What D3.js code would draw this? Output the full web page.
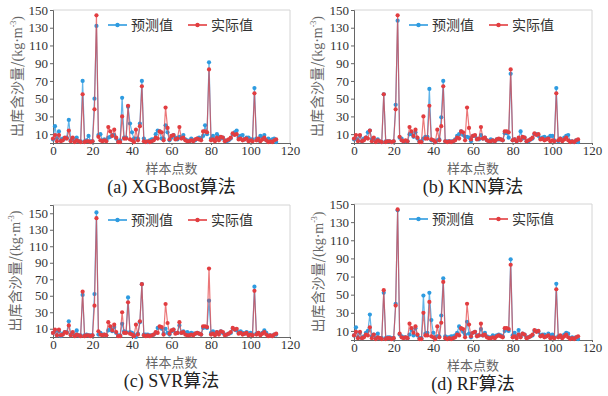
<!DOCTYPE html>
<html>
<head>
<meta charset="utf-8">
<script src="https://cdn.jsdelivr.net/npm/d3@7"></script>
<style>
  body { margin: 0; background: #fff; }
  svg { display: block; }
</style>
</head>
<body>
<div id="figure"></div>
<script>
// measured (actual) sediment concentration, sample points 0..113
const actualValues = [
  5, 9, 2, 9, 2, 3, 6, 5, 14, 2,
  6, 1, 3, 2, 1, 55, 1, 2, 2, 1,
  2, 38, 144, 7, 3, 2, 3, 2, 18, 13,
  8, 15, 6, 1, 1, 30, 5, 5, 42, 4,
  3, 1, 15, 3, 19, 64, 2, 1, 2, 1,
  2, 3, 6, 5, 13, 12, 3, 40, 17, 4,
  8, 9, 4, 5, 18, 5, 6, 3, 2, 2,
  3, 2, 4, 5, 4, 3, 13, 13, 12, 83,
  3, 4, 2, 6, 3, 7, 6, 2, 3, 4,
  6, 11, 9, 10, 4, 5, 3, 4, 5, 2,
  3, 2, 56, 3, 5, 2, 4, 6, 3, 1,
  2, 1, 3, 4
]

// predictions per model
const xgbPred = [
  4, 19, 5, 13, 3, 5, 5, 6, 26, 3,
  5, 2, 6, 2, 2, 70, 2, 3, 8, 2,
  2, 50, 132, 9, 10, 3, 4, 3, 6, 7,
  9, 9, 5, 2, 3, 51, 6, 6, 41, 22,
  12, 5, 5, 5, 22, 70, 5, 2, 1, 3,
  4, 4, 10, 14, 13, 5, 5, 20, 12, 3,
  6, 9, 6, 4, 7, 6, 9, 4, 3, 2,
  5, 3, 3, 5, 6, 5, 8, 20, 10, 91,
  5, 8, 4, 10, 7, 5, 6, 3, 2, 3,
  5, 10, 12, 14, 6, 8, 9, 4, 6, 6,
  4, 4, 62, 5, 3, 8, 6, 9, 3, 5,
  3, 4, 5, 1
]
const knnPred = [
  4, 5, 3, 8, 2, 5, 6, 12, 14, 4,
  4, 2, 4, 2, 1, 55, 2, 2, 2, 1,
  2, 43, 138, 6, 5, 2, 2, 2, 10, 10,
  7, 12, 5, 2, 2, 5, 7, 7, 61, 3,
  3, 1, 3, 4, 29, 70, 2, 2, 2, 2,
  2, 4, 8, 10, 13, 9, 7, 7, 6, 2,
  8, 8, 5, 4, 9, 5, 6, 3, 2, 4,
  3, 2, 4, 4, 4, 3, 11, 11, 6, 78,
  3, 4, 2, 4, 13, 5, 6, 2, 2, 4,
  5, 10, 10, 8, 5, 6, 7, 5, 6, 8,
  8, 3, 62, 2, 5, 3, 6, 8, 9, 2,
  2, 1, 3, 1
]
const svrPred = [
  5, 7, 2, 7, 1, 4, 6, 6, 19, 3,
  5, 2, 8, 2, 2, 51, 2, 3, 2, 2,
  2, 52, 151, 3, 5, 3, 3, 2, 8, 10,
  7, 12, 5, 2, 2, 16, 7, 6, 48, 6,
  5, 3, 0, 4, 18, 64, 3, 3, 3, 2,
  2, 3, 5, 11, 12, 10, 4, 10, 5, 3,
  7, 9, 5, 5, 14, 5, 7, 5, 6, 4,
  5, 4, 4, 5, 4, 3, 11, 12, 11, 44,
  5, 7, 4, 6, 5, 7, 5, 3, 3, 4,
  5, 10, 9, 8, 5, 7, 5, 4, 6, 4,
  5, 3, 61, 4, 5, 3, 5, 8, 5, 2,
  2, 1, 3, 3
]
const rfPred = [
  5, 14, 3, 8, 2, 4, 8, 10, 28, 4,
  6, 2, 7, 2, 2, 52, 2, 3, 3, 2,
  2, 40, 143, 6, 4, 3, 3, 2, 6, 11,
  5, 13, 5, 2, 2, 49, 7, 8, 52, 22,
  8, 3, 4, 4, 27, 68, 4, 3, 3, 4,
  4, 5, 8, 15, 12, 9, 6, 20, 7, 3,
  8, 9, 5, 5, 12, 5, 8, 4, 3, 3,
  5, 4, 5, 6, 5, 4, 10, 12, 10, 89,
  5, 8, 4, 11, 4, 7, 6, 3, 3, 4,
  5, 10, 10, 9, 5, 6, 6, 4, 7, 5,
  6, 3, 62, 4, 4, 3, 6, 8, 7, 2,
  3, 2, 3, 1
]

const xTicks = [0, 20, 40, 60, 80, 100, 120]
const yTicks = [10, 30, 50, 70, 90, 110, 130, 150]
const captions = ['(a) XGBoost算法', '(b) KNN算法', '(c) SVR算法', '(d) RF算法']
const legendNames = ['预测值', '实际值']

const width = 608
const height = 396
const blue = '#2e9be0'
const red = '#e23d40'

// panel boxes in page pixels
const panels = [
  { pred: xgbPred, left: 53, right: 290, top: 10, bottom: 143, yMax: 150, labX: 22 },
  { pred: knnPred, left: 354, right: 592, top: 10, bottom: 143, yMax: 150, labX: 322 },
  { pred: svrPred, left: 53, right: 290, top: 205, bottom: 337, yMax: 160, labX: 20 },
  { pred: rfPred, left: 354, right: 592, top: 204, bottom: 340, yMax: 150, labX: 323 }
]

const svg = d3.select('#figure').append('svg')
  .attr('width', width).attr('height', height)
  .attr('style', 'background:white')

panels.forEach((p, k) => {
  const g = svg.append('g')
  const x = d3.scaleLinear().domain([0, 120]).range([p.left, p.right])
  const y = d3.scaleLinear().domain([0, p.yMax]).range([p.bottom, p.top])

  // light frame on top and right
  g.append('path')
    .attr('d', `M${p.left},${p.top}H${p.right}V${p.bottom}`)
    .attr('fill', 'none').attr('stroke', '#d4d4d4').attr('stroke-width', 1)

  // axes
  const xAxis = d3.axisBottom(x).tickValues(xTicks).tickSize(2).tickPadding(1)
  const yAxis = d3.axisLeft(y).tickValues(yTicks).tickSize(3).tickPadding(2)

  const gx = g.append('g').attr('transform', `translate(0,${p.bottom})`).call(xAxis)
  const gy = g.append('g').attr('transform', `translate(${p.left},0)`).call(yAxis)
  ;[gx, gy].forEach(a => {
    a.select('.domain').attr('stroke', '#666')
    a.selectAll('.tick line').attr('stroke', '#666')
    a.selectAll('.tick text')
      .attr('font-family', '"Liberation Serif", "Times New Roman", serif')
      .attr('font-size', 13).attr('fill', '#333')
  })

  // lines + markers
  const line = d3.line().x((d, i) => x(i)).y(d => y(d))
  const series = [
    { vals: p.pred, color: blue, op: 0.75 },
    { vals: actualValues, color: red, op: 0.7 }
  ]
  series.forEach(s => {
    g.append('path').datum(s.vals)
      .attr('d', line)
      .attr('fill', 'none').attr('stroke', s.color)
      .attr('stroke-opacity', s.op).attr('stroke-width', 1.2)
    g.append('g').selectAll('circle').data(s.vals).enter().append('circle')
      .attr('cx', (d, i) => x(i)).attr('cy', d => y(d))
      .attr('r', 2.1).attr('fill', s.color)
  })

  // legend
  const lx = p.left + 55
  const ly = p.top + 15
  const leg = g.append('g').attr('transform', `translate(${lx},${ly})`)
  ;[blue, red].forEach((c, j) => {
    const off = j * 80
    leg.append('line').attr('x1', off).attr('x2', off + 19).attr('y1', 0).attr('y2', 0)
      .attr('stroke', c).attr('stroke-width', 2).attr('stroke-opacity', 0.8)
    leg.append('circle').attr('cx', off + 9.5).attr('cy', 0).attr('r', 2.2).attr('fill', c)
    leg.append('text').text(legendNames[j])
      .attr('x', off + 23).attr('y', 5)
      .attr('font-family', '"Noto Sans CJK SC", sans-serif')
      .attr('font-size', 14).attr('fill', '#333')
  })

  // x label
  const cx = (p.left + p.right) / 2
  g.append('text').text('样本点数')
    .attr('x', cx).attr('y', p.bottom + 30)
    .attr('text-anchor', 'middle')
    .attr('font-family', '"Noto Sans CJK SC", sans-serif')
    .attr('font-size', 13).attr('fill', '#666')

  // y label
  const yl = g.append('text')
    .attr('transform', `translate(${p.labX},${(p.top + p.bottom) / 2}) rotate(-90)`)
    .attr('text-anchor', 'middle')
    .attr('font-family', '"Noto Sans CJK SC", sans-serif')
    .attr('font-size', 14).attr('fill', '#666')
  yl.append('tspan').text('出库含沙量/')
  yl.append('tspan').text('(kg·m').attr('font-family', '"Liberation Serif", serif')
  yl.append('tspan').text('-3').attr('font-size', 8).attr('dy', -6)
    .attr('font-family', '"Liberation Serif", serif')
  yl.append('tspan').text(')').attr('dy', 6).attr('font-family', '"Liberation Serif", serif')

  // caption
  g.append('text').text(captions[k])
    .attr('x', cx).attr('y', p.bottom + 50)
    .attr('text-anchor', 'middle')
    .attr('font-family', '"Liberation Serif", "Noto Sans CJK SC", serif')
    .attr('font-size', 18).attr('fill', '#222')
})
</script>
</body>
</html>
